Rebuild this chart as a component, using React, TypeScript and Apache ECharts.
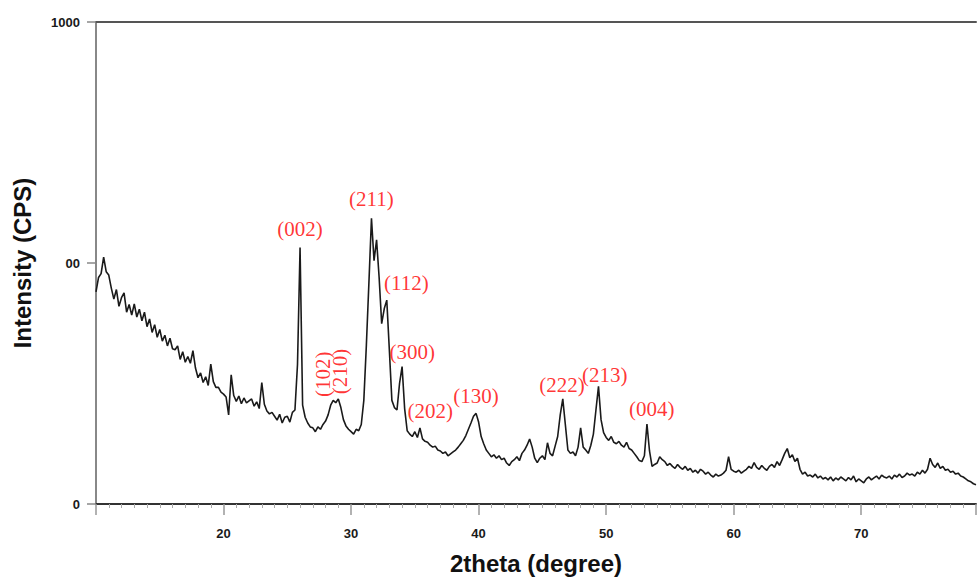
import React, { useEffect, useRef } from "react";
import * as echarts from "echarts";

// Scan grid of the diffractogram (degrees 2θ)
const ANGLE_START = 10;
const ANGLE_STEP = 0.2;

// Intensity (CPS), one value per 0.2° from 10.0° to 79.0°
const intensity: number[] = [
  // 10.0 - 11.8
  440, 470, 478, 512, 482, 475, 448, 425, 445, 410,
  // 12.0 - 13.8
  428, 438, 398, 414, 392, 415, 388, 404, 380, 398,
  // 14.0 - 15.8
  368, 384, 356, 372, 346, 362, 338, 350, 328, 344,
  // 16.0 - 17.8
  322, 320, 328, 300, 316, 294, 306, 292, 318, 282,
  // 18.0 - 19.8
  262, 272, 252, 264, 246, 290, 254, 242, 242, 232,
  // 20.0 - 21.8
  228, 222, 185, 268, 225, 213, 224, 208, 220, 210,
  // 22.0 - 23.8
  214, 218, 203, 212, 198, 252, 207, 193, 187, 190,
  // 24.0 - 25.8
  182, 174, 186, 168, 180, 182, 170, 190, 195, 290,
  // 26.0 - 27.8
  532, 205, 180, 168, 160, 158, 150, 160, 155, 165,
  // 28.0 - 29.8
  172, 185, 205, 215, 210, 218, 200, 175, 162, 155,
  // 30.0 - 31.8
  150, 145, 155, 152, 165, 215, 330, 460, 593, 505,
  // 32.0 - 33.8
  548, 470, 374, 405, 423, 320, 215, 200, 195, 250,
  // 34.0 - 35.8
  285, 198, 152, 145, 140, 150, 138, 158, 135, 130,
  // 36.0 - 37.8
  128, 122, 118, 120, 112, 110, 105, 108, 100, 104,
  // 38.0 - 39.8
  108, 112, 118, 125, 132, 142, 155, 168, 182, 188,
  // 40.0 - 41.8
  170, 140, 125, 112, 105, 98, 102, 95, 100, 92,
  // 42.0 - 43.8
  95, 85, 80, 88, 92, 98, 90, 105, 112, 122,
  // 44.0 - 45.8
  135, 118, 95, 86, 95, 100, 92, 127, 105, 100,
  // 46.0 - 47.8
  120, 140, 185, 218, 165, 112, 105, 108, 100, 118,
  // 48.0 - 49.8
  158, 118, 112, 105, 122, 145, 195, 244, 175, 148,
  // 50.0 - 51.8
  138, 132, 140, 128, 125, 130, 122, 118, 128, 115,
  // 52.0 - 53.8
  112, 105, 98, 90, 88, 100, 166, 110, 78, 82,
  // 54.0 - 55.8
  85, 98, 92, 88, 80, 84, 78, 74, 82, 76,
  // 56.0 - 57.8
  72, 78, 70, 74, 66, 70, 64, 72, 68, 62,
  // 58.0 - 59.8
  66, 60, 56, 62, 58, 60, 64, 70, 98, 72,
  // 60.0 - 61.8
  68, 66, 70, 64, 68, 72, 78, 74, 86, 76,
  // 62.0 - 63.8
  72, 80, 74, 70, 78, 82, 76, 88, 80, 92,
  // 64.0 - 65.8
  105, 115, 96, 102, 88, 95, 72, 62, 66, 58,
  // 66.0 - 67.8
  60, 56, 62, 54, 58, 52, 55, 50, 56, 48,
  // 68.0 - 69.8
  54, 50, 56, 52, 48, 55, 50, 58, 46, 52,
  // 70.0 - 71.8
  48, 44, 52, 56, 50, 54, 58, 52, 60, 56,
  // 72.0 - 73.8
  54, 58, 52, 60, 56, 62, 55, 58, 64, 60,
  // 74.0 - 75.8
  62, 58, 66, 62, 70, 64, 72, 95, 82, 76,
  // 76.0 - 77.8
  85, 74, 78, 70, 72, 66, 68, 62, 64, 58,
  // 78.0 - 79.0
  56, 52, 48, 46, 42, 40,
];

// Miller index annotations
const peakLabels = ["(002)", "(102)", "(210)", "(211)", "(112)", "(300)", "(202)", "(130)", "(222)", "(213)", "(004)"];
const peakLabelTheta = [26.0, 27.76, 29.17, 31.6, 34.33, 34.8, 36.2, 39.8, 46.54, 49.9, 53.58];
const peakLabelIntensity = [571, 269, 275, 632, 458, 316, 193, 224, 246, 267, 197];
const peakLabelRotate = [0, 90, 90, 0, 0, 0, 0, 0, 0, 0, 0];

// Axis settings
const xMin = 10;
const xMax = 79;
const xInterval = 10;
const yMin = 0;
const yMax = 1000;
const yInterval = 500;
const yTickText: Record<number, string> = { 0: "0", 500: "00", 1000: "1000" };

export default function App() {
  const ref = useRef<HTMLDivElement>(null);

  useEffect(() => {
    if (!ref.current) return;
    const chart = echarts.init(ref.current, undefined, { renderer: "svg" });

    const lineData = intensity.map((v, i) => [
      Math.round((ANGLE_START + i * ANGLE_STEP) * 10) / 10,
      v,
    ]);

    const labelData = peakLabels.map((name, i) => ({
      name,
      value: [peakLabelTheta[i], peakLabelIntensity[i]],
      label: { rotate: peakLabelRotate[i] },
    }));

    const tickFont = {
      fontFamily: "Liberation Sans",
      fontWeight: "bold" as const,
      fontSize: 13,
      color: "#1a1a1a",
    };

    chart.setOption({
      animation: false,
      backgroundColor: "#ffffff",
      grid: { left: 96, right: 1, top: 22, bottom: 70, containLabel: false },
      xAxis: [
        {
          type: "value",
          min: xMin,
          max: xMax,
          interval: xInterval,
          name: "2theta (degree)",
          nameLocation: "middle",
          nameGap: 47,
          nameTextStyle: {
            fontFamily: "Liberation Sans",
            fontWeight: "bold",
            fontSize: 24,
            color: "#111",
          },
          axisLine: { show: true, onZero: false, lineStyle: { color: "#333", width: 2 } },
          axisTick: { show: true, length: 11, lineStyle: { color: "#999", width: 1.5 } },
          minorTick: { show: true, splitNumber: 10, length: 4, lineStyle: { color: "#aaa", width: 1 } },
          axisLabel: {
            ...tickFont,
            margin: 23,
            formatter: (v: number) => (v % 10 === 0 && v > xMin && v < xMax ? String(v) : ""),
          },
          splitLine: { show: false },
          minorSplitLine: { show: false },
        },
        {
          type: "value",
          position: "top",
          min: xMin,
          max: xMax,
          axisLine: { show: true, onZero: false, lineStyle: { color: "#555", width: 2 } },
          axisTick: { show: false },
          axisLabel: { show: false },
          splitLine: { show: false },
        },
      ],
      yAxis: {
        type: "value",
        min: yMin,
        max: yMax,
        interval: yInterval,
        name: "Intensity (CPS)",
        nameLocation: "middle",
        nameGap: 62,
        nameTextStyle: {
          fontFamily: "Liberation Sans",
          fontWeight: "bold",
          fontSize: 24,
          color: "#111",
        },
        axisLine: { show: true, onZero: false, lineStyle: { color: "#888", width: 2 } },
        axisTick: { show: true, length: 9, lineStyle: { color: "#888", width: 1.5 } },
        axisLabel: {
          ...tickFont,
          margin: 16,
          formatter: (v: number) => yTickText[v] ?? String(v),
        },
        splitLine: { show: false },
      },
      series: [
        {
          type: "line",
          xAxisIndex: 0,
          data: lineData,
          showSymbol: false,
          symbol: "none",
          lineStyle: { color: "#1a1a1a", width: 1.6 },
          z: 2,
        },
        {
          type: "scatter",
          xAxisIndex: 0,
          data: labelData,
          symbolSize: 1,
          itemStyle: { color: "rgba(0,0,0,0)" },
          label: {
            show: true,
            position: "inside",
            formatter: "{b}",
            fontFamily: "Liberation Serif",
            fontSize: 21,
            color: "#ff0000",
          },
          silent: true,
          z: 3,
        },
      ],
    });

    return () => chart.dispose();
  }, []);

  return (
    <div
      ref={ref}
      style={{ position: "fixed", left: 0, top: 0, width: 979, height: 580, background: "#fff" }}
    />
  );
}
